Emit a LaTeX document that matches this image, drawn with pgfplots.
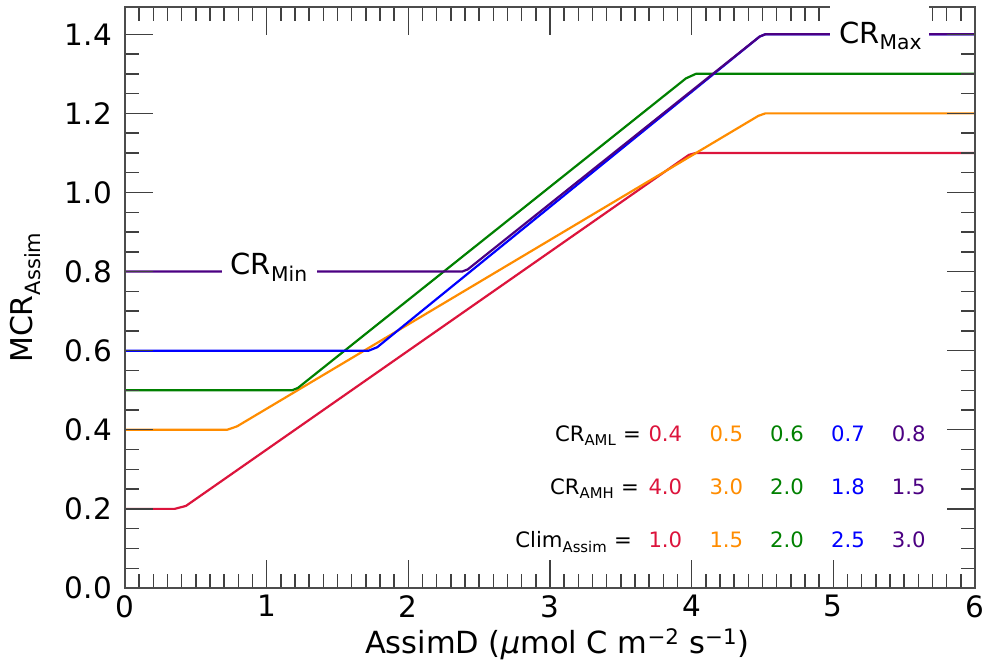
\documentclass[border=0pt]{standalone}
\usepackage{fontspec}
\setmainfont{DejaVu Sans}[ItalicFont={DejaVu Sans Oblique}]
\usepackage{pgfplots}
\pgfplotsset{compat=1.18}

\definecolor{cRed}{HTML}{DC143C}
\definecolor{cOrange}{HTML}{FF8C00}
\definecolor{cGreen}{HTML}{008000}
\definecolor{cBlue}{HTML}{0000FF}
\definecolor{cPurple}{HTML}{4B0082}

% one row of the parameter table: y offset, right edge of label, label, 5 values
\newcommand{\annrow}[8]{%
  \path (ax.south west) ++(#2,#1) node[anchor=base east, inner sep=0pt] {#3};
  \path (ax.south west) ++(523.3pt,#1) node[anchor=base west, inner sep=0pt, text=cRed] {#4};
  \path (ax.south west) ++(584.3pt,#1) node[anchor=base west, inner sep=0pt, text=cOrange] {#5};
  \path (ax.south west) ++(645pt,#1) node[anchor=base west, inner sep=0pt, text=cGreen] {#6};
  \path (ax.south west) ++(706pt,#1) node[anchor=base west, inner sep=0pt, text=cBlue] {#7};
  \path (ax.south west) ++(766.7pt,#1) node[anchor=base west, inner sep=0pt, text=cPurple] {#8};
}

\begin{document}
\begin{tikzpicture}
\begin{axis}[
    name=ax,
    scale only axis,
    width=850pt, height=581pt,
    xmin=0, xmax=6,
    ymin=0, ymax=1.469,
    xtick={0,1,2,3,4,5,6},
    ytick={0,0.2,0.4,0.6,0.8,1.0,1.2,1.4},
    minor x tick num=9,
    minor y tick num=3,
    tick align=inside,
    tick pos=both,
    major tick length=28pt,
    minor tick length=14pt,
    every tick/.style={black!75, line width=1.4pt},
    axis line style={black!70, line width=1.8pt},
    axis on top,
    /pgf/number format/assume math mode=true,
    yticklabel style={/pgf/number format/fixed, /pgf/number format/fixed zerofill, /pgf/number format/precision=1},
    tick label style={font=\fontsize{29.5}{34}\selectfont},
    xticklabel style={inner sep=0pt, anchor=north, yshift=-7pt},
    yticklabel style={inner sep=0pt, anchor=east, xshift=-13pt},
    every axis x label/.style={at={([xshift=7pt,yshift=-66pt]axis description cs:0.5,0)}, anchor=base,
        font=\fontsize{30.5}{35}\selectfont},
    every axis y label/.style={at={([xshift=-92pt]axis description cs:0,0.5)}, rotate=90, anchor=base,
        font=\fontsize{30}{35}\selectfont},
    xlabel={AssimD (\textit{μ}mol C m\textsuperscript{−2} s\textsuperscript{−1})},
    ylabel={MCR\textsubscript{Assim}},
    every axis plot/.append style={line width=2.2pt, line join=round, mark=none},
]
% Clim 1.0
\addplot[cRed] coordinates {(0,0.2) (0.35,0.2) (0.43,0.2075) (3.98,1.095) (4.03,1.1) (6,1.1)};
% Clim 1.5
\addplot[cOrange] coordinates {(0,0.4) (0.72,0.4) (0.79,0.4085) (4.47,1.1936) (4.52,1.2) (6,1.2)};
% Clim 2.0
\addplot[cGreen] coordinates {(0,0.5) (1.18,0.5) (1.22,0.5057) (3.96,1.2886) (4.03,1.3) (6,1.3)};
% Clim 2.5
\addplot[cBlue] coordinates {(0,0.6) (1.72,0.6) (1.78,0.6087) (4.48,1.3942) (4.52,1.4) (6,1.4)};
% Clim 3.0
\addplot[cPurple] coordinates {(0,0.8) (2.38,0.8) (2.42,0.8057) (4.48,1.3943) (4.52,1.4) (6,1.4)};

\coordinate (minA) at (axis cs:0.683,0.74);
\coordinate (minB) at (axis cs:1.353,0.86);
\coordinate (minT) at (axis cs:0.745,0.7916);
\coordinate (maxA) at (axis cs:4.976,1.33);
\coordinate (maxB) at (axis cs:5.675,1.469);
\coordinate (maxT) at (axis cs:5.04,1.3776);
\end{axis}

% labels on the min / max plateaus, above lines and ticks
\fill[white] (minA) rectangle (minB);
\node[anchor=base west, inner sep=0pt, font=\fontsize{29}{34}\selectfont] at (minT) {CR\textsubscript{Min}};
\fill[white] (maxA) rectangle ([yshift=1.5pt]maxB);
\node[anchor=base west, inner sep=0pt, font=\fontsize{29}{34}\selectfont] at (maxT) {CR\textsubscript{Max}};

% parameter table
\begingroup
\fontsize{21.2}{25}\selectfont
\annrow{146.3pt}{516pt}{CR\textsubscript{AML} =}{0.4}{0.5}{0.6}{0.7}{0.8}
\annrow{93pt}{514pt}{CR\textsubscript{AMH} =}{4.0}{3.0}{2.0}{1.8}{1.5}
\annrow{40pt}{507pt}{Clim\textsubscript{Assim} =}{1.0}{1.5}{2.0}{2.5}{3.0}
\endgroup

\path (ax.south west) ++(-125pt,-83pt) rectangle ++(985pt,671pt);
\end{tikzpicture}
\end{document}
